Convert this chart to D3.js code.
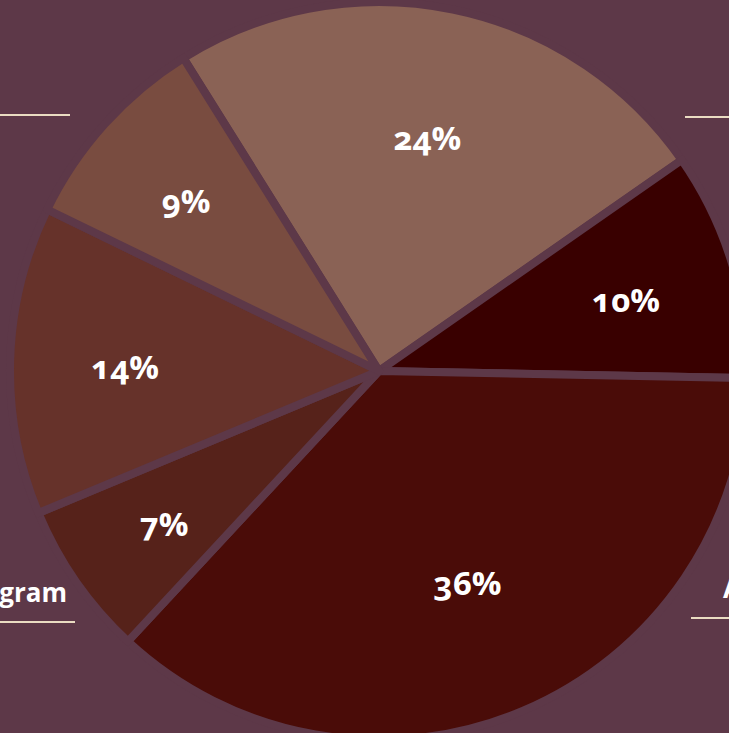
<!DOCTYPE html>
<html>
<head>
<meta charset="utf-8">
<script src="https://cdn.jsdelivr.net/npm/d3@7"></script>
<style>
  html, body { margin: 0; padding: 0; background: #5d3848; overflow: hidden; }
  svg { display: block; }
</style>
</head>
<body>
<svg id="chart" width="729" height="733"></svg>
<script>
// ---- data ----
const categories = ["A", "B", "C", "D", "E", "F"];
const values = [24.2, 10.0, 36.6, 6.8, 13.5, 8.9];
const labels = ["24%", "10%", "36%", "7%", "14%", "9%"];
const colors = ["#8a6255", "#390000", "#4a0c08", "#56221a", "#66322a", "#794c40"];
const calloutNames = ["", "", "Instagram", "Andere"];

// ---- layout ----
const W = 729, H = 733;
const bg = "#5d3848";
const cx = 379, cy = 371, R = 369;
const startDeg = -32;

const svg = d3.select("#chart");
svg.append("rect").attr("width", W).attr("height", H).attr("fill", bg);

const pie = d3.pie().sort(null).value(d => d)
  .startAngle(startDeg * Math.PI / 180)
  .endAngle(startDeg * Math.PI / 180 + 2 * Math.PI);
const arcs = pie(values);

const arc = d3.arc().innerRadius(0).outerRadius(R);
// wider slices get their label a little closer to the centre
const labelPos = d => {
  const span = (d.endAngle - d.startAngle) * 180 / Math.PI;
  const r = 270 - 0.33 * span;
  return d3.arc().innerRadius(r).outerRadius(r).centroid(d);
};

const g = svg.append("g").attr("transform", `translate(${cx},${cy})`);
g.selectAll("path").data(arcs).join("path")
  .attr("d", arc)
  .attr("fill", (d, i) => colors[i])
  .attr("stroke", bg)
  .attr("stroke-width", 8)
  .attr("stroke-linejoin", "round");

g.selectAll("text").data(arcs).join("text")
  .attr("transform", d => `translate(${labelPos(d)})`)
  .attr("text-anchor", "middle")
  .attr("dy", "0.47em")
  .attr("fill", "#ffffff")
  .attr("font-family", "'Open Sans', Lato, sans-serif")
  .attr("font-weight", "bold")
  .attr("font-size", 33)
  .style("font-feature-settings", "'onum' 1")
  .style("font-variant-numeric", "oldstyle-nums")
  .text((d, i) => labels[i]);

// ---- callout labels with underlines ----
const callouts = [
  { x1: 0, x2: 70, y: 115, anchor: "end", tx: 62 },
  { x1: 685, x2: 729, y: 117, anchor: "start", tx: 723 },
  { x1: 0, x2: 75, y: 622, anchor: "end", tx: 67 },
  { x1: 691, x2: 729, y: 618, anchor: "start", tx: 723 }
];
const cg = svg.append("g");
cg.selectAll("line").data(callouts).join("line")
  .attr("x1", d => d.x1).attr("x2", d => d.x2)
  .attr("y1", d => d.y).attr("y2", d => d.y)
  .attr("stroke", "#eadcc2").attr("stroke-width", 2);
cg.selectAll("text").data(callouts).join("text")
  .attr("x", d => d.tx).attr("y", d => d.y - 20)
  .attr("text-anchor", d => d.anchor)
  .attr("fill", "#ffffff")
  .attr("font-family", "'Open Sans', Lato, sans-serif")
  .attr("font-weight", "bold")
  .attr("font-size", 26)
  .text((d, i) => calloutNames[i]);
</script>
</body>
</html>
